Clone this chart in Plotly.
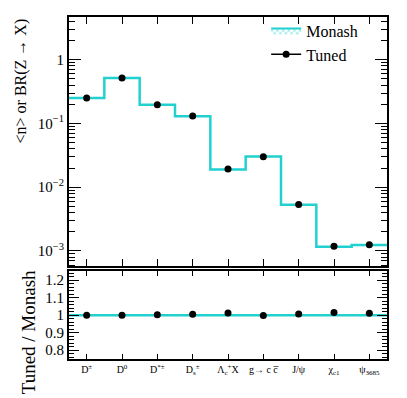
import plotly.graph_objects as go
from plotly.subplots import make_subplots

# data
categories = ["D<sup>±</sup>", "D<sup>0</sup>", "D<sup>*±</sup>", "D<sub>s</sub><sup>±</sup>",
              "Λ<sub>c</sub><sup>+</sup>X", "g→ c c̅", "J/ψ", "χ<sub>c1</sub>", "ψ<sub>3685</sub>"]
monash = [0.252, 0.515, 0.196, 0.130, 0.0190, 0.0302, 0.0053, 0.00117, 0.00124]
tuned = [0.252, 0.515, 0.197, 0.131, 0.0193, 0.0301, 0.00534, 0.00119, 0.00125]
ratio = [1.0, 1.0, 1.003, 1.005, 1.013, 0.998, 1.007, 1.016, 1.011]

cyan = "#22d0d0"
font = "Liberation Serif, Times New Roman, serif"

edges = list(range(len(categories) + 1))
centers = [i + 0.5 for i in range(len(categories))]

fig = make_subplots(rows=2, cols=1, shared_xaxes=True,
                    row_heights=[0.74, 0.26], vertical_spacing=0.015)

# Monash step histogram
fig.add_trace(go.Scatter(x=edges, y=monash + [monash[-1]], mode="lines", line_shape="hv",
                         line=dict(color=cyan, width=2.5), showlegend=False), row=1, col=1)
fig.add_trace(go.Scatter(x=centers, y=tuned, mode="markers", showlegend=False,
                         marker=dict(color="black", size=7)), row=1, col=1)

# legend entries
fig.add_trace(go.Scatter(x=[None], y=[None], name="Monash", mode="lines", fill="toself",
                         fillcolor="white",
                         fillpattern=dict(shape="x", fgcolor=cyan, bgcolor="white", size=4,
                                          solidity=0.4),
                         line=dict(color=cyan, width=2)), row=1, col=1)
fig.add_trace(go.Scatter(x=[None], y=[None], name="Tuned", mode="lines+markers",
                         line=dict(color="black", width=1.5),
                         marker=dict(color="black", size=7)), row=1, col=1)

# ratio panel
fig.add_trace(go.Scatter(x=[0, len(categories)], y=[1, 1], mode="lines",
                         line=dict(color=cyan, width=2.5), showlegend=False), row=2, col=1)
fig.add_trace(go.Scatter(x=centers, y=ratio, mode="markers",
                         marker=dict(color="black", size=7), showlegend=False), row=2, col=1)

axis_common = dict(showline=True, linecolor="black", linewidth=2, mirror="ticks",
                   ticks="inside", tickcolor="black", showgrid=False, zeroline=False,
                   automargin=False)

fig.update_xaxes(**axis_common, range=[0, len(categories)], tickvals=centers,
                 ticklen=7, tickwidth=1)
fig.update_xaxes(showticklabels=False, row=1, col=1)
fig.update_xaxes(ticktext=categories, tickfont=dict(family=font, size=10, color="black"),
                 ticklen=5, row=2, col=1)

fig.update_yaxes(**axis_common, type="log", range=[-3.24, 0.67],
                 tickvals=[1e-3, 1e-2, 1e-1, 1],
                 ticktext=["10<sup>−3</sup>", "10<sup>−2</sup>", "10<sup>−1</sup>", "1"],
                 ticklen=12, tickwidth=1,
                 minor=dict(ticks="inside", ticklen=6, tickcolor="black", showgrid=False,
                            tickvals=[m * 10 ** e for e in range(-4, 1) for m in range(2, 10)]),
                 tickfont=dict(family=font, size=15, color="black"),
                 row=1, col=1)
fig.update_yaxes(**axis_common, range=[0.75, 1.25], tickvals=[0.8, 0.9, 1, 1.1, 1.2],
                 ticktext=["0.8", "0.9", "1", "1.1", "1.2"], ticklen=10, tickwidth=1,
                 minor=dict(ticks="inside", ticklen=5, tickcolor="black", dtick=0.02,
                            showgrid=False),
                 tickfont=dict(family=font, size=15, color="black"),
                 row=2, col=1)

# axis titles, top-aligned like the original
fig.add_annotation(text="<n> or BR(Z → X)", textangle=-90, xref="paper", yref="paper",
                   x=-0.151, y=1.003, xanchor="center", yanchor="top", showarrow=False,
                   font=dict(family=font, size=16, color="black"))
fig.add_annotation(text="Tuned / Monash", textangle=-90, xref="paper", yref="paper",
                   x=-0.129, y=0.078, xanchor="center", yanchor="middle", showarrow=False,
                   font=dict(family=font, size=19, color="black"))

# the page body adds an 8px offset, so the figure is sized to fit the window
fig.update_layout(width=399, height=390, margin=dict(l=61, r=20, t=6, b=39),
                  paper_bgcolor="white", plot_bgcolor="white",
                  font=dict(family=font, color="black"),
                  legend=dict(x=0.62, y=1.01, xanchor="left", yanchor="top",
                              bgcolor="rgba(0,0,0,0)", tracegroupgap=0, itemwidth=30,
                              font=dict(family=font, size=16, color="black")))

fig.write_html("out.html")
